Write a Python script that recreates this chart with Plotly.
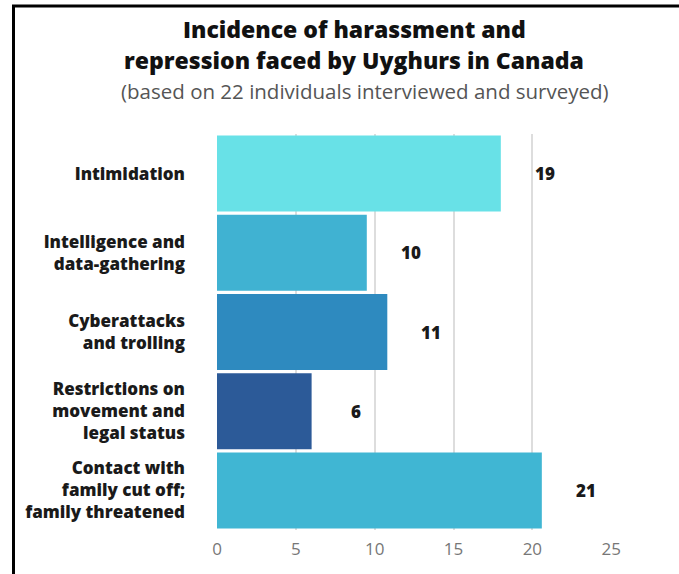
import plotly.graph_objects as go

categories = [
    "Intimidation",
    "Intelligence and<br>data-gathering",
    "Cyberattacks<br>and trolling",
    "Restrictions on<br>movement and<br>legal status",
    "Contact with<br>family cut off;<br>family threatened",
]
bar_values = [18.0, 9.5, 10.8, 6.0, 20.6]
label_values = ["19", "10", "11", "6", "21"]
colors = ["#68E1E7", "#40B2D2", "#2E8ABF", "#2C5A98", "#40B6D3"]
x_ticks = [0, 5, 10, 15, 20, 25]

W, H = 679, 574
L, R, T, B = 217, 67, 134, 44
pw, ph = W - L - R, H - T - B

def px_x(px):
    return (px - L) / pw

def px_y(py):
    return (H - B - py) / ph

fig = go.Figure()
fig.add_trace(go.Bar(
    y=categories, x=bar_values, orientation="h",
    marker=dict(color=colors, line=dict(width=0)),
    hoverinfo="skip",
))

for cat, v, lab in zip(categories, bar_values, label_values):
    fig.add_annotation(x=v, y=cat, text=lab, showarrow=False,
                       xanchor="center", xshift=44,
                       font=dict(family="Open Sans", size=17, color="#1a1a1a", weight=800))

fig.add_annotation(xref="paper", yref="paper", x=px_x(354), y=px_y(29),
                   text="Incidence of harassment and", showarrow=False,
                   xanchor="center", yanchor="middle",
                   font=dict(family="Open Sans", size=23, color="#111", weight=800))
fig.add_annotation(xref="paper", yref="paper", x=px_x(354), y=px_y(60),
                   text="repression faced by Uyghurs in Canada", showarrow=False,
                   xanchor="center", yanchor="middle",
                   font=dict(family="Open Sans", size=23, color="#111", weight=800))
fig.add_annotation(xref="paper", yref="paper", x=px_x(365), y=px_y(91),
                   text="(based on 22 individuals interviewed and surveyed)", showarrow=False,
                   xanchor="center", yanchor="middle",
                   font=dict(family="Open Sans", size=20.5, color="#555"))

fig.add_shape(type="rect", xref="paper", yref="paper",
              x0=px_x(13.5), x1=px_x(700), y0=px_y(6), y1=px_y(600),
              line=dict(color="black", width=3), fillcolor="rgba(0,0,0,0)")

fig.update_layout(
    width=W, height=H,
    margin=dict(l=L, r=R, t=T, b=B),
    paper_bgcolor="white", plot_bgcolor="white",
    bargap=0.04,
    showlegend=False,
    font=dict(family="Open Sans"),
    xaxis=dict(range=[0, 25.05], tickvals=x_ticks, showgrid=True,
               gridcolor="#DDDDDD", gridwidth=1.5, zeroline=False,
               showline=False, ticks="", ticklabelstandoff=7,
               tickfont=dict(family="Open Sans", size=17, color="#777")),
    yaxis=dict(categoryorder="array", categoryarray=categories,
               autorange="reversed", showgrid=False, zeroline=False,
               showline=False, ticks="", ticklabelstandoff=31,
               tickfont=dict(family="Open Sans", size=17, color="#1a1a1a", weight=800)),
)

fig.write_html("out.html")
